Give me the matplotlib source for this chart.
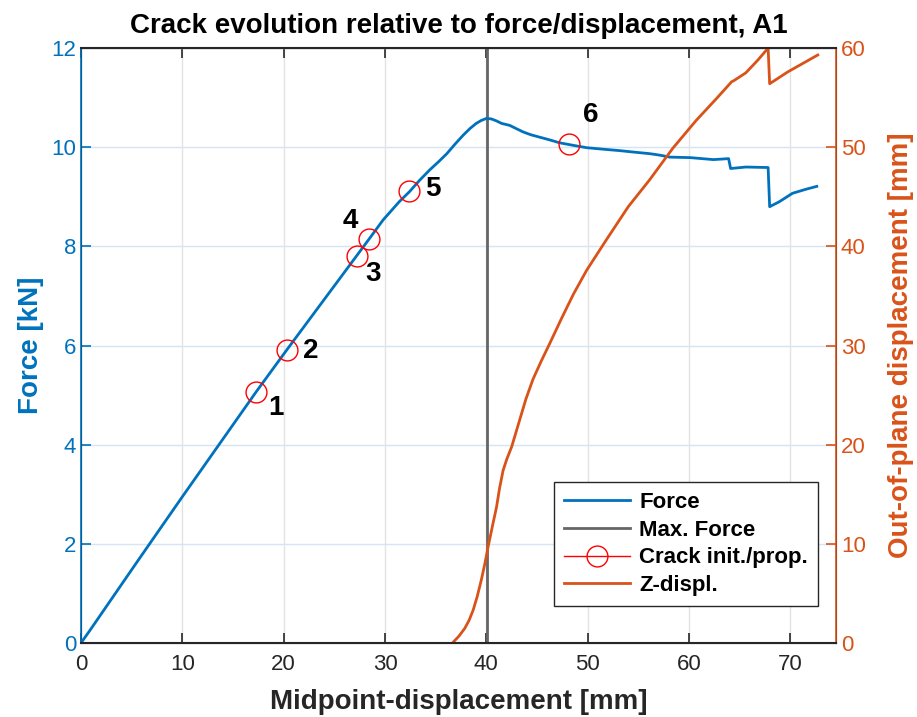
import matplotlib
matplotlib.use("Agg")
import matplotlib.pyplot as plt
from matplotlib.lines import Line2D

plt.rcParams['font.family'] = ['Liberation Sans', 'DejaVu Sans']

# Force vs midpoint displacement
force_x = [0, 0.9, 5.65, 10.0, 17.3, 20.3, 27.2, 28.4, 29.8, 31.4, 32.4, 33.4, 34.4,
           35.3, 36.1, 36.9, 37.7, 38.4, 39.0, 39.5, 40.0, 40.5, 41.0, 41.5, 42.3,
           43.0, 43.6, 44.4, 45.3, 46.2, 47.2, 48.5, 49.9, 51.5, 53.2, 54.6, 56.1,
           57.1, 58.1, 60.1, 62.4, 63.2, 63.9, 64.1, 65.6, 67.8, 67.95, 68.9, 70.2,
           71.5, 72.6]
force_y = [0, 0.26, 1.67, 2.95, 5.07, 5.91, 7.81, 8.14, 8.53, 8.90, 9.10, 9.33, 9.54,
           9.71, 9.87, 10.06, 10.24, 10.38, 10.48, 10.54, 10.58, 10.57, 10.53, 10.48, 10.44,
           10.37, 10.31, 10.25, 10.20, 10.15, 10.09, 10.04, 9.99, 9.96, 9.93, 9.90, 9.87,
           9.84, 9.80, 9.79, 9.75, 9.76, 9.77, 9.57, 9.60, 9.59, 8.80, 8.90, 9.07,
           9.15, 9.21]

# Z-displacement (out-of-plane)
z_x = [36.65, 37.3, 37.87, 38.3, 38.69, 39.1, 39.5, 39.85, 40.17, 40.6, 41.0, 41.3,
       41.65, 42.0, 42.5, 43.2, 43.9, 44.6, 45.4, 46.25, 47.4, 48.6, 49.9, 51.8,
       54.0, 56.1, 58.4, 60.7, 62.7, 64.2, 64.4, 65.6, 66.8, 67.8, 67.95, 69.75, 72.7]
z_y = [0, 0.7, 1.48, 2.3, 3.3, 4.7, 6.35, 8.0, 9.7, 11.8, 13.7, 15.6,
       17.4, 18.5, 19.8, 22.2, 24.6, 26.6, 28.4, 30.2, 32.7, 35.2, 37.6, 40.6,
       44.0, 46.7, 49.9, 52.7, 54.9, 56.6, 56.7, 57.5, 58.8, 60.0, 56.4, 57.6, 59.3]

max_force_x = 40.1

# Crack initiation / propagation points
crack_x = [17.3, 20.3, 27.2, 28.4, 32.4, 48.2]
crack_y = [5.07, 5.91, 7.81, 8.14, 9.12, 10.06]
crack_labels = ['1', '2', '3', '4', '5', '6']
label_offsets = [(14, -12), (17, -1), (12, -13), (-13, 13), (17, 1), (15, 21)]

blue = '#0072BD'
orange = '#D95319'
grey = '#666666'
dark = '#262626'

fig = plt.figure(figsize=(9.17, 7.17), dpi=100)
ax = fig.add_axes([0.0883, 0.1032, 0.8234, 0.8298])
ax2 = ax.twinx()

ax.plot(force_x, force_y, color=blue, lw=2, zorder=3)
ax.axvline(max_force_x, color=grey, lw=2, zorder=2)
ax.plot(crack_x, crack_y, ls='none', marker='o', ms=15, mfc='none', mec='red',
        mew=1, zorder=4)
for cx, cy, lab, off in zip(crack_x, crack_y, crack_labels, label_offsets):
    ax.annotate(lab, (cx, cy), xytext=off, textcoords='offset points',
                ha='center', va='center', fontsize=20, fontweight='bold')

ax2.plot(z_x, z_y, color=orange, lw=2)

ax.set_xlim(0, 74.5)
ax.set_ylim(0, 12)
ax2.set_ylim(0, 60)
ax.set_xticks(range(0, 71, 10))
ax.set_yticks(range(0, 13, 2))
ax2.set_yticks(range(0, 61, 10))

ax.grid(axis='x', color='#e3e3e3', lw=1)
ax.grid(axis='y', color='#d5e5f3', lw=1)
ax.set_axisbelow(True)

ax.tick_params(axis='x', direction='in', top=True, colors=dark, labelsize=16,
               length=7, width=1.2, pad=8)
ax.tick_params(axis='y', direction='in', colors=blue, labelsize=16, length=7, width=1.2)
ax2.tick_params(axis='y', direction='in', colors=orange, labelsize=16, length=7, width=1.2)

for s in ['top', 'bottom']:
    ax2.spines[s].set_color(dark)
    ax2.spines[s].set_linewidth(1.5)
ax2.spines['left'].set_color(blue)
ax2.spines['right'].set_color(orange)
ax2.spines['left'].set_linewidth(1.2)
ax2.spines['right'].set_linewidth(1.2)

ax.set_xlabel('Midpoint-displacement [mm]', fontsize=20, fontweight='bold',
              color=dark, labelpad=10)
ax.set_ylabel('Force [kN]', fontsize=20, fontweight='bold', color=blue, labelpad=5)
ax2.set_ylabel('Out-of-plane displacement [mm]', fontsize=20, fontweight='bold',
               color=orange, labelpad=16)
ax.set_title('Crack evolution relative to force/displacement, A1', fontsize=20,
             fontweight='bold', pad=11)

handles = [Line2D([], [], color=blue, lw=2),
           Line2D([], [], color=grey, lw=2),
           Line2D([], [], color='red', lw=1, marker='o', ms=15, mfc='none', mec='red'),
           Line2D([], [], color=orange, lw=2)]
names = ['Force', 'Max. Force', 'Crack init./prop.', 'Z-displ.']
leg = ax2.legend(handles, names, loc='lower right', bbox_to_anchor=(0.976, 0.062),
                 fancybox=False, edgecolor=dark, prop={'weight': 'bold', 'size': 16},
                 handlelength=3.0, borderpad=0.45, labelspacing=0.3, handletextpad=0.4,
                 borderaxespad=0, framealpha=1)
leg.get_frame().set_linewidth(1)

fig.savefig('out.png', dpi=100)
